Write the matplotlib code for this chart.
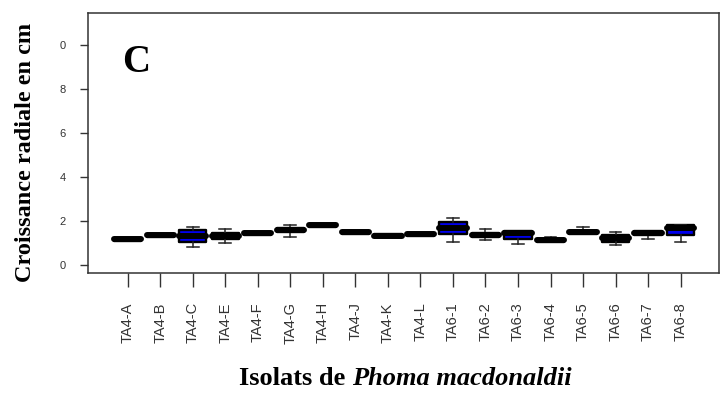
import matplotlib
matplotlib.use("Agg")
import matplotlib.pyplot as plt

# radial growth (cm) per isolate: whisker low, Q1, median, Q3, whisker high
isolates = ["TA4-A", "TA4-B", "TA4-C", "TA4-E", "TA4-F", "TA4-G", "TA4-H",
            "TA4-J", "TA4-K", "TA4-L", "TA6-1", "TA6-2", "TA6-3", "TA6-4",
            "TA6-5", "TA6-6", "TA6-7", "TA6-8"]
whis_low = [1.11, 1.29, 0.83, 1.01, 1.38, 1.29, 1.72, 1.41, 1.27, 1.34,
            1.03, 1.14, 0.95, 1.07, 1.43, 0.91, 1.18, 1.06]
q1 = [1.11, 1.29, 1.06, 1.19, 1.38, 1.52, 1.72, 1.41, 1.27, 1.34,
      1.40, 1.27, 1.18, 1.07, 1.43, 1.03, 1.36, 1.36]
median = [1.17, 1.36, 1.32, 1.32, 1.45, 1.59, 1.80, 1.48, 1.33, 1.40,
          1.70, 1.35, 1.44, 1.13, 1.50, 1.24, 1.46, 1.68]
q3 = [1.23, 1.43, 1.59, 1.46, 1.52, 1.67, 1.87, 1.55, 1.39, 1.47,
      1.97, 1.44, 1.57, 1.19, 1.57, 1.36, 1.57, 1.80]
whis_high = [1.23, 1.43, 1.74, 1.64, 1.52, 1.82, 1.87, 1.55, 1.39, 1.47,
             2.15, 1.64, 1.57, 1.29, 1.71, 1.51, 1.57, 1.80]
y_ticks = [0, 2, 4, 6, 8, 10]
y_tick_labels = ["0", "2", "4", "6", "8", "0"]

stats = []
for name, lo, a, m, b, hi in zip(isolates, whis_low, q1, median, q3, whis_high):
    stats.append({"label": name, "whislo": lo, "q1": a, "med": m,
                  "q3": b, "whishi": hi, "fliers": []})

fig = plt.figure(figsize=(7.2, 4.01), dpi=100)
ax = fig.add_axes([0.1222, 0.3192, 0.8764, 0.6484])

positions = list(range(1, len(isolates) + 1))
ax.bxp(stats, positions=positions, widths=0.84, patch_artist=True,
       showfliers=False,
       boxprops=dict(facecolor="#0000ee", edgecolor="black",
                     linewidth=1.7, joinstyle="round"),
       medianprops=dict(color="black", linewidth=4.3, solid_capstyle="round"),
       whiskerprops=dict(color="#222222", linewidth=1.1),
       capprops=dict(color="#222222", linewidth=1.1),
       capwidths=0.36)

ax.set_xlim(-0.22, 19.18)
ax.set_ylim(-0.36, 11.45)

ax.set_yticks(y_ticks)
ax.set_yticklabels(y_tick_labels, fontsize=8, color="#333333",
                   family="Liberation Sans")
ax.set_xticks(positions)
ax.set_xticklabels(isolates, rotation=90, fontsize=10.5, color="#333333",
                   family="Liberation Sans")
ax.tick_params(axis="y", length=6, width=1, color="#333333", pad=10)
ax.tick_params(axis="x", length=10, width=1, color="#333333", pad=11)
for sp in ax.spines.values():
    sp.set_color("#333333")
    sp.set_linewidth(1.1)

ax.text(0.054, 0.773, "C", transform=ax.transAxes, fontsize=28,
        fontweight="bold", family="Liberation Serif", va="baseline")

fig.text(0.035, 0.62, "Croissance radiale en cm", rotation=90,
         fontsize=17.5, fontweight="bold", family="Liberation Serif",
         ha="center", va="center")

# x title: upright part then italic species name, centred as one line
renderer = fig.canvas.get_renderer()
t1 = fig.text(0, 0.055, "Isolats de ", fontsize=19, fontweight="bold",
              family="Liberation Serif", va="center")
t2 = fig.text(0, 0.055, "Phoma macdonaldii", fontsize=19, fontweight="bold",
              fontstyle="italic", family="Liberation Serif", va="center")
w1 = t1.get_window_extent(renderer).width / fig.bbox.width
w2 = t2.get_window_extent(renderer).width / fig.bbox.width
x0 = 0.563 - (w1 + w2) / 2
t1.set_x(x0)
t2.set_x(x0 + w1)

fig.savefig("out.png", dpi=100)
